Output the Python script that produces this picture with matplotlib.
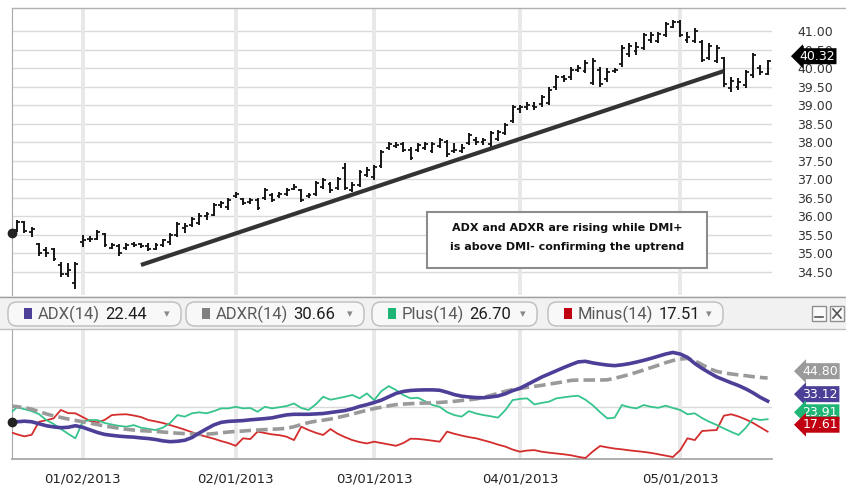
import numpy as np
import pandas as pd
import matplotlib
matplotlib.use("Agg")
import matplotlib.pyplot as plt
from matplotlib.patches import Rectangle, FancyBboxPatch
from matplotlib.transforms import blended_transform_factory

W, H = 846, 492

# trading days shown on the chart
holidays = ["2012-12-25", "2013-01-01", "2013-01-21", "2013-02-18", "2013-03-29"]
dates = pd.bdate_range("2012-12-17", "2013-05-17")
dates = dates[~dates.isin(pd.to_datetime(holidays))]

highs = [35.92, 35.90, 35.88, 35.72, 35.28, 35.18, 35.15, 34.77, 34.74, 34.77,
         35.50, 35.47, 35.63, 35.55, 35.28, 35.25, 35.28, 35.31, 35.28, 35.28,
         35.28, 35.39, 35.55, 35.85, 35.82, 35.98, 36.09, 36.12, 36.36, 36.42,
         36.50, 36.66, 36.50, 36.50, 36.50, 36.77, 36.63, 36.66, 36.77, 36.87,
         36.74, 36.63, 36.95, 37.04, 36.93, 37.06, 37.44, 36.93, 37.25, 37.33,
         37.39, 37.79, 38.00, 38.00, 38.00, 37.87, 37.98, 38.00, 38.00, 38.11,
         38.06, 37.98, 37.95, 38.25, 38.14, 38.11, 38.30, 38.34, 38.51, 39.00,
         39.00, 39.09, 39.09, 39.27, 39.48, 39.81, 39.81, 40.04, 40.08, 40.22,
         40.26, 40.04, 39.99, 39.99, 40.62, 40.67, 40.71, 40.94, 40.98, 40.98,
         41.25, 41.30, 41.30, 40.98, 41.07, 40.76, 40.67, 40.62, 40.31, 39.77,
         39.72, 39.95, 40.40, 40.08, 40.22]
lows = [35.50, 35.58, 35.55, 35.45, 34.93, 34.91, 34.80, 34.37, 34.37, 34.05,
        35.17, 35.31, 35.36, 35.18, 35.12, 34.93, 35.10, 35.17, 35.14, 35.07,
        35.10, 35.17, 35.23, 35.45, 35.55, 35.71, 35.77, 35.90, 36.01, 36.23,
        36.17, 36.50, 36.31, 36.34, 36.17, 36.44, 36.39, 36.50, 36.55, 36.71,
        36.39, 36.50, 36.55, 36.74, 36.63, 36.71, 36.71, 36.66, 36.79, 37.06,
        36.98, 37.31, 37.79, 37.85, 37.74, 37.52, 37.74, 37.79, 37.71, 37.84,
        37.60, 37.71, 37.71, 37.93, 37.93, 37.93, 37.88, 38.02, 38.19, 38.51,
        38.80, 38.87, 38.87, 38.96, 39.00, 39.41, 39.63, 39.68, 39.90, 39.86,
        39.54, 39.50, 39.63, 39.86, 40.04, 40.31, 40.35, 40.49, 40.67, 40.67,
        40.85, 41.07, 40.85, 40.67, 40.67, 40.17, 40.22, 40.13, 39.50, 39.36,
        39.41, 39.45, 39.72, 39.81, 39.81]
opens = [35.85, 35.62, 35.85, 35.58, 35.25, 35.10, 35.12, 34.70, 34.45, 34.20,
         35.30, 35.38, 35.38, 35.52, 35.16, 35.20, 35.15, 35.26, 35.25, 35.20,
         35.13, 35.22, 35.30, 35.50, 35.70, 35.76, 35.82, 36.00, 36.05, 36.30,
         36.25, 36.55, 36.48, 36.40, 36.45, 36.50, 36.58, 36.55, 36.60, 36.75,
         36.70, 36.55, 36.60, 36.80, 36.88, 36.76, 37.30, 36.72, 36.85, 37.12,
         37.05, 37.36, 37.84, 37.90, 37.95, 37.80, 37.80, 37.85, 37.76, 37.90,
         38.00, 37.76, 37.76, 37.98, 38.05, 38.00, 37.95, 38.10, 38.24, 38.58,
         38.90, 38.95, 38.98, 39.02, 39.06, 39.50, 39.75, 39.75, 39.95, 39.92,
         39.60, 39.95, 39.70, 39.92, 40.10, 40.38, 40.45, 40.55, 40.75, 40.72,
         40.90, 41.12, 41.25, 40.75, 40.72, 40.70, 40.28, 40.20, 40.28, 39.45,
         39.50, 39.55, 39.80, 40.00, 39.85]
closes = [35.56, 35.86, 35.60, 35.66, 35.00, 35.02, 34.85, 34.45, 34.55, 34.72,
          35.35, 35.40, 35.58, 35.22, 35.22, 35.02, 35.22, 35.24, 35.20, 35.12,
          35.24, 35.35, 35.50, 35.80, 35.74, 35.93, 36.02, 36.07, 36.30, 36.35,
          36.45, 36.60, 36.35, 36.45, 36.22, 36.72, 36.45, 36.60, 36.72, 36.80,
          36.45, 36.58, 36.90, 36.98, 36.70, 37.00, 36.76, 36.85, 37.20, 37.25,
          37.32, 37.74, 37.95, 37.92, 37.80, 37.58, 37.92, 37.95, 37.94, 38.06,
          37.68, 37.80, 37.85, 38.20, 38.00, 38.06, 38.25, 38.28, 38.46, 38.95,
          38.95, 39.00, 38.95, 39.22, 39.40, 39.75, 39.70, 39.95, 40.00, 40.15,
          40.20, 39.58, 39.90, 39.94, 40.55, 40.60, 40.58, 40.88, 40.90, 40.92,
          41.20, 41.25, 40.90, 40.85, 41.00, 40.22, 40.60, 40.55, 39.58, 39.65,
          39.62, 39.90, 40.35, 39.90, 40.18]

adx = [22.4, 22.6, 22.9, 22.6, 21.6, 20.6, 20.0, 19.6, 19.8, 20.6,
       19.8, 18.5, 17.2, 16.2, 15.7, 15.3, 15.0, 14.8, 14.4, 14.1,
       13.6, 12.9, 12.5, 12.7, 13.2, 14.6, 16.9, 19.0, 21.0, 22.3,
       22.8, 23.0, 23.2, 23.6, 23.9, 24.2, 24.6, 25.4, 26.1, 26.4,
       26.4, 26.4, 26.6, 26.8, 27.3, 27.8, 28.3, 29.2, 30.4, 31.3,
       32.4, 33.6, 35.3, 37.0, 38.0, 38.5, 38.7, 38.8, 38.8, 38.6,
       37.6, 36.4, 35.6, 35.2, 34.9, 34.8, 35.2, 35.7, 36.8, 38.4,
       39.6, 41.5, 43.4, 45.3, 46.9, 48.5, 50.1, 51.6, 53.0, 53.3,
       52.5, 51.9, 51.4, 51.1, 51.5, 52.1, 52.9, 53.8, 54.8, 55.9,
       57.0, 57.8, 57.0, 55.3, 52.2, 49.7, 47.5, 45.4, 43.9, 42.4,
       41.0, 39.3, 37.3, 35.0, 33.1]
adxr = [30.6, 30.3, 29.8, 29.0, 27.8, 26.6, 25.6, 24.8, 24.0, 23.3,
        22.6, 21.9, 21.2, 20.4, 19.9, 19.3, 18.8, 18.4, 18.1, 17.9,
        17.7, 17.4, 17.1, 16.8, 16.6, 16.4, 16.2, 16.3, 16.6, 17.0,
        17.4, 17.7, 17.9, 18.2, 18.4, 18.6, 18.8, 19.0, 19.3, 20.1,
        21.2, 22.2, 22.9, 23.4, 24.0, 24.8, 25.6, 26.5, 27.5, 28.4,
        29.3, 30.0, 30.7, 31.3, 31.6, 31.8, 32.0, 32.1, 32.2, 32.4,
        32.7, 33.0, 33.4, 33.8, 34.2, 35.0, 36.0, 37.0, 38.1, 38.9,
        39.5, 40.1, 40.6, 41.1, 41.7, 42.3, 42.9, 43.6, 43.8, 43.8,
        43.8, 43.8, 43.9, 44.7, 45.6, 46.6, 47.7, 48.9, 50.1, 51.3,
        52.6, 53.7, 54.4, 54.8, 53.6, 51.6, 49.6, 48.2, 47.4, 46.9,
        46.4, 46.0, 45.5, 45.1, 44.8]
dmi_plus = [26.7, 30.0, 29.0, 28.0, 26.5, 23.5, 21.5, 19.0, 16.5, 14.2,
            22.6, 23.5, 23.5, 22.0, 21.2, 20.5, 20.1, 20.9, 19.6, 19.0,
            18.4, 19.6, 22.0, 26.0, 25.2, 26.9, 27.4, 26.9, 28.0, 29.4,
            29.4, 30.2, 29.4, 29.6, 27.7, 30.2, 29.4, 30.0, 30.6, 31.9,
            29.6, 28.6, 31.5, 35.3, 33.8, 34.5, 35.3, 36.2, 34.5, 37.0,
            33.6, 38.2, 40.7, 38.7, 36.2, 34.5, 34.8, 33.0, 31.1, 30.2,
            27.5, 26.0, 25.2, 28.0, 26.8, 26.0, 25.4, 24.7, 28.5, 33.6,
            34.2, 34.5, 31.4, 32.2, 32.8, 34.5, 35.0, 35.5, 35.8, 33.8,
            31.0, 27.5, 24.3, 24.7, 31.1, 30.0, 29.4, 31.1, 30.2, 29.7,
            30.8, 29.6, 28.6, 26.4, 26.9, 24.5, 22.6, 21.0, 19.2, 17.5,
            15.9, 19.5, 24.3, 23.5, 23.9]
dmi_minus = [17.5, 16.2, 15.2, 16.0, 22.6, 23.4, 24.3, 28.6, 27.0, 26.9,
             25.0, 23.0, 22.3, 23.5, 26.0, 26.3, 26.4, 25.8, 25.0, 23.5,
             22.8, 22.0, 20.9, 19.8, 18.6, 17.3, 16.0, 15.0, 14.0, 12.8,
             11.8, 10.4, 14.2, 13.8, 17.6, 16.9, 16.2, 15.8, 15.0, 13.3,
             20.1, 18.4, 17.0, 15.9, 18.9, 16.5, 14.8, 13.3, 12.3, 11.6,
             12.5, 11.8, 11.1, 10.4, 11.8, 14.0, 13.9, 13.5, 13.0, 12.5,
             17.6, 16.5, 15.6, 14.8, 14.2, 13.2, 12.2, 11.0, 10.0, 8.5,
             7.4, 8.0, 8.2, 7.4, 6.9, 6.5, 6.1, 5.6, 4.8, 4.2,
             7.5, 10.3, 9.6, 9.0, 8.6, 8.1, 7.7, 7.3, 6.8, 6.1,
             5.4, 4.7, 8.2, 14.2, 13.3, 17.9, 18.2, 18.4, 25.7, 26.4,
             25.3, 23.8, 22.0, 19.8, 17.6]

trend_dates = ["2013-01-14", "2013-05-09"]
trend_prices = [34.69, 39.92]

legend_names = ["ADX(14)", "ADXR(14)", "Plus(14)", "Minus(14)"]
legend_values = ["22.44", "30.66", "26.70", "17.51"]
last_values = [44.80, 33.12, 23.91, 17.61]   # ADXR, ADX, Plus, Minus
last_price = 40.32

note_lines = ["ADX and ADXR are rising while DMI+",
              "is above DMI- confirming the uptrend"]

C_ADX = "#4b3f98"
C_ADXR = "#9a9a9a"
C_PLUS = "#36c48c"
C_MINUS = "#d42d2d"
C_GRID = "#d9d9d9"
C_VGRID = "#e8e8e8"
C_SPINE = "#a8a8a8"


def fx(px):
    return px / W


def fy(py):
    return 1 - py / H


x = np.arange(len(dates))
pos = {d: i for i, d in enumerate(dates)}
tick_pos = [np.argmax((dates.year == 2013) & (dates.month == m)) for m in range(1, 6)]
tick_labels = [dates[i].strftime("%m/%d/%Y") for i in tick_pos]
xlim = (0.3, 104.6)

fig = plt.figure(figsize=(W / 100, H / 100), dpi=100)
fig.patch.set_facecolor("white")

# ---- price panel
ax1 = fig.add_axes([fx(12), fy(295), fx(772) - fx(12), fy(8) - fy(295)])
ax1.set_xlim(*xlim)
ax1.set_ylim(33.88, 41.62)
price_ticks = np.arange(34.5, 41.01, 0.5)
ax1.set_yticks(price_ticks)
ax1.set_yticklabels([f"{t:.2f}" for t in price_ticks])
ax1.yaxis.tick_right()
ax1.tick_params(axis="y", length=0, pad=18, labelsize=9, labelcolor="#333333")
ax1.set_xticks(tick_pos)
ax1.tick_params(axis="x", length=0, labelbottom=False)
for t in price_ticks:
    ax1.axhline(t, color=C_GRID, lw=1, zorder=0)
for t in tick_pos:
    ax1.axvline(t, color=C_VGRID, lw=2.8, zorder=0)
for s in ["top", "right", "bottom"]:
    ax1.spines[s].set_visible(False)
ax1.spines["left"].set_color(C_SPINE)

ax1.vlines(x, lows, highs, color="#151515", lw=1.4, zorder=3)
ax1.hlines(opens, x - 0.4, x, color="#151515", lw=1.3, zorder=3)
ax1.hlines(closes, x, x + 0.4, color="#151515", lw=1.3, zorder=3)

trend_x = [pos[pd.Timestamp(d)] for d in trend_dates]
ax1.plot(trend_x, trend_prices, color="#333333", lw=3, solid_capstyle="butt", zorder=4)
ax1.plot(xlim[0], closes[0], "o", color="#222222", ms=6, clip_on=False, zorder=5)

tr1 = blended_transform_factory(ax1.transAxes, ax1.transData)
ax1.text(1.036, last_price, f"{last_price:.2f}", transform=tr1, ha="left", va="center",
         color="white", fontsize=9, clip_on=False, zorder=10,
         bbox=dict(boxstyle="larrow,pad=0.12", fc="black", ec="none"))

# ---- indicator panel
ax2 = fig.add_axes([fx(12), fy(459), fx(772) - fx(12), fy(330) - fy(459)])
ax2.set_xlim(*xlim)
ax2.set_ylim(3.7, 69.2)
ax2.set_yticks([])
ax2.set_xticks(tick_pos)
ax2.set_xticklabels(tick_labels)
ax2.tick_params(axis="x", length=0, pad=10, labelsize=9.5, labelcolor="#222222")
ax2.axhline(30, color=C_GRID, lw=1, zorder=0)
for t in tick_pos:
    ax2.axvline(t, color=C_VGRID, lw=2.8, zorder=0)
for s in ["top", "right"]:
    ax2.spines[s].set_visible(False)
ax2.spines["left"].set_color(C_SPINE)
ax2.spines["bottom"].set_color(C_SPINE)
ax2.spines["bottom"].set_linewidth(1.3)

ax2.plot(x, dmi_minus, color=C_MINUS, lw=1.3, zorder=3)
ax2.plot(x, dmi_plus, color=C_PLUS, lw=1.3, zorder=3)
ax2.plot(x, adxr, color=C_ADXR, lw=2.6, dashes=(3.2, 1.4), zorder=4)
ax2.plot(x, adx, color=C_ADX, lw=2.6, zorder=5)
ax2.plot(xlim[0], adx[0], "o", color="#222222", ms=6, clip_on=False, zorder=6)

tr2 = blended_transform_factory(ax2.transAxes, ax2.transData)
tag_offset = 3.5
for val, col in zip(last_values, [C_ADXR, C_ADX, "#1fb574", "#c00010"]):
    ax2.text(1.040, val + tag_offset, f"{val:.2f}", transform=tr2, ha="left", va="center",
             color="white", fontsize=9, clip_on=False,
             bbox=dict(boxstyle="larrow,pad=0.12", fc=col, ec="none"))

# ---- overlay in pixel coordinates: legend bar, note box, borders
ov = fig.add_axes([0, 0, 1, 1], zorder=10)
ov.set_xlim(0, W)
ov.set_ylim(H, 0)
ov.axis("off")
ov.patch.set_alpha(0)

ov.plot([12, W], [8, 8], color="#b0b0b0", lw=1)
ov.add_patch(Rectangle((0, 296), W, 33, fc="#f1f1f1", ec="none"))
ov.plot([0, W], [296.5, 296.5], color="#a0a0a0", lw=1)
ov.plot([0, W], [329, 329], color="#c0c0c0", lw=1)

renderer = fig.canvas.get_renderer()
inv = ov.transData.inverted()
box_x = [8, 186, 372, 548]
box_w = [173, 178, 165, 175]
swatch = [C_ADX, "#808080", "#1fb574", "#c00010"]
for bx, bw, name, val, col in zip(box_x, box_w, legend_names, legend_values, swatch):
    ov.add_patch(FancyBboxPatch((bx, 302), bw, 24, boxstyle="round,pad=0,rounding_size=9",
                                fc="#f8f8f8", ec="#bdbdbd", lw=1))
    ov.add_patch(Rectangle((bx + 16, 308), 8, 11, fc=col, ec="none"))
    t = ov.text(bx + 30, 314.5, name, fontsize=12, family="Roboto", color="#5a5a5a",
                ha="left", va="center")
    ext = t.get_window_extent(renderer)
    x_end = inv.transform((ext.x1, ext.y0))[0]
    ov.text(x_end + 5, 314.5, val, fontsize=12, family="Roboto", color="#1e1e1e",
            ha="left", va="center")
    ov.text(bx + bw - 14, 314, "\u25be", fontsize=8, color="#888888", ha="center", va="center")

for bx in [812, 830]:
    ov.add_patch(Rectangle((bx, 306), 14, 15, fc="#fafafa", ec="#909090", lw=1))
ov.plot([815, 823], [317, 317], color="#555555", lw=1.2)
ov.plot([833, 841], [309, 318], color="#555555", lw=1.2)
ov.plot([833, 841], [318, 309], color="#555555", lw=1.2)

ov.add_patch(Rectangle((427, 212), 280, 56, fc="white", ec="#8c8c8c", lw=1.5))
ov.text(567, 228, note_lines[0], fontsize=8, fontweight="bold", color="#111111",
        ha="center", va="center")
ov.text(567, 247, note_lines[1], fontsize=8, fontweight="bold", color="#111111",
        ha="center", va="center")

fig.savefig("out.png", dpi=100)
